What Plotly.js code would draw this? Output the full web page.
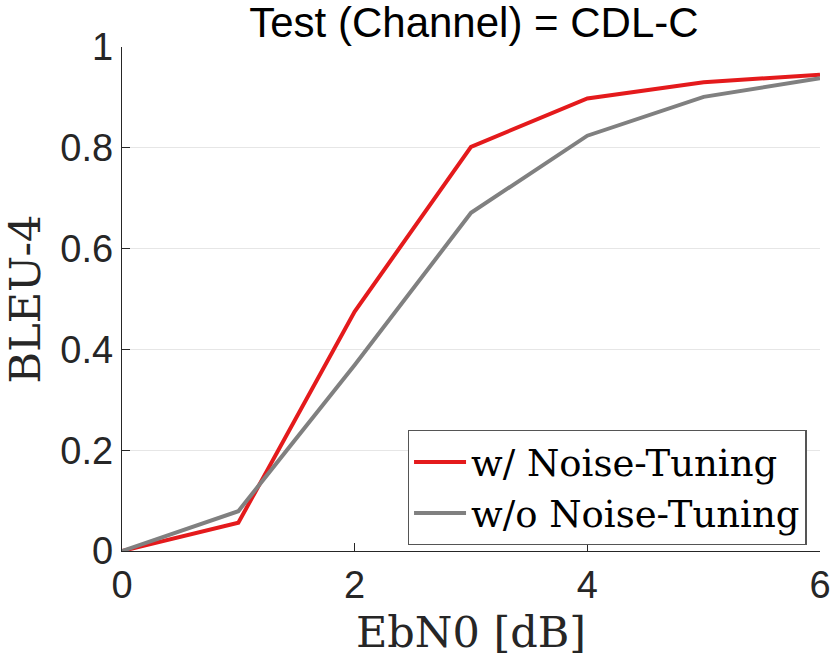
<!DOCTYPE html>
<html><head><meta charset="utf-8">
<script src="https://cdn.plot.ly/plotly-3.0.1.min.js"></script>
<style>html,body{margin:0;padding:0;background:#fff}#plot{width:830px;height:666px}</style>
</head><body><div id="plot"></div>
<script>
var ebn0 = [0, 1, 2, 3, 4, 5, 6];
var withTuning = [0, 0.056, 0.475, 0.802, 0.898, 0.930, 0.945];
var withoutTuning = [0, 0.079, 0.369, 0.671, 0.824, 0.901, 0.938];
var seriesNames = ['w/ Noise-Tuning', 'w/o Noise-Tuning'];
var xTicks = [0, 2, 4, 6];
var yTicks = [0, 0.2, 0.4, 0.6, 0.8, 1];
var yTickText = ['0', '0.2', '0.4', '0.6', '0.8', '1'];

var sans = 'Liberation Sans, Arial, sans-serif';
var serif = 'DejaVu Serif, serif';
var traces = [
  {x: ebn0, y: withTuning, name: seriesNames[0], mode: 'lines', type: 'scatter',
   line: {color: '#e41a1c', width: 4}},
  {x: ebn0, y: withoutTuning, name: seriesNames[1], mode: 'lines', type: 'scatter',
   line: {color: '#808080', width: 4}}
];
var layout = {
  width: 830, height: 666,
  margin: {l: 122, r: 10, t: 47, b: 115},
  paper_bgcolor: '#fff', plot_bgcolor: '#fff',
  title: {text: 'Test (Channel) = CDL-C', x: 0.571, xanchor: 'center', y: 0.967, yanchor: 'middle',
          font: {family: sans, size: 42, color: '#000'}},
  xaxis: {range: [0, 6], tickvals: xTicks, ticks: 'inside', ticklen: 8, tickwidth: 1.3, tickcolor: '#262626',
          showline: true, linecolor: '#262626', linewidth: 1.3, showgrid: false, zeroline: false,
          ticklabeloverflow: 'allow', automargin: false,
          tickfont: {family: sans, size: 38, color: '#262626'},
          title: {text: 'EbN0 [dB]', standoff: 12, font: {family: serif, size: 43, color: '#262626'}}},
  yaxis: {range: [0, 1], tickvals: yTicks, ticktext: yTickText, ticks: 'inside', ticklen: 8, tickwidth: 1.3, tickcolor: '#262626',
          showline: true, linecolor: '#262626', linewidth: 1.3, showgrid: true, gridcolor: '#e6e6e6', gridwidth: 1, zeroline: false,
          automargin: false,
          tickfont: {family: sans, size: 38, color: '#262626'},
          title: {text: 'BLEU-4', standoff: 20, font: {family: serif, size: 43, color: '#262626'}}},
  showlegend: true,
  legend: {x: 0.981, xanchor: 'right', y: 0.24, yanchor: 'top', bgcolor: '#fff', bordercolor: '#555', borderwidth: 1.3,
           itemwidth: 52,
           font: {family: serif, size: 37, color: '#000'}, tracegroupgap: 0}
};
Plotly.newPlot('plot', traces, layout, {displayModeBar: false, staticPlot: true});
</script></body></html>
